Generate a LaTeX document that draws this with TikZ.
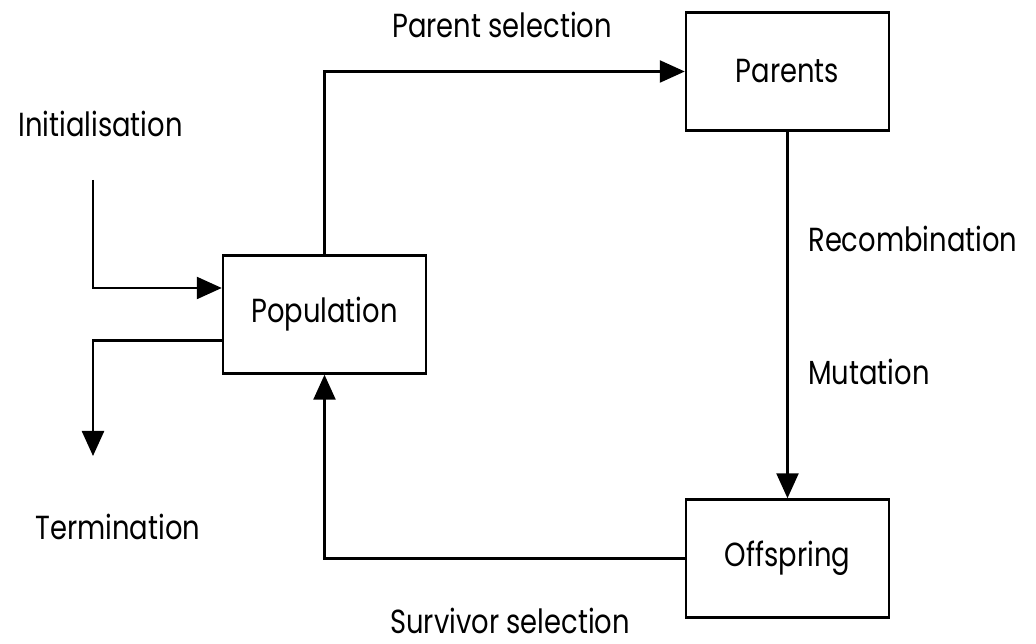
\documentclass[tikz,border=0pt]{standalone}
\usepackage{fontspec}
\setmainfont{Poppins}[FakeStretch=0.82]
\usetikzlibrary{arrows.meta, positioning}
\tikzstyle{stage} = [rectangle, draw, line width=1.4pt, minimum width=4.06cm,
                 minimum height=2.36cm, font=\fontsize{19}{22}\selectfont]
\tikzstyle{flow} = [line width=1.4pt, draw, -{Triangle[length=0.5cm, width=0.44cm]}]
\tikzset{
	phase/.style={anchor=base west, inner sep=0pt, font=\fontsize{19}{22}\selectfont},
}

\begin{document}
\begin{tikzpicture}
\useasboundingbox (0,0) rectangle (20.72,12.88);

\node [stage] at (6.49,6.59) (pop) {Population};
\node [stage] at (15.75,11.45) (par) {Parents};
\node [stage] at (15.75,1.71) (off) {Offspring};

\coordinate (init) at (1.86,9.28);
\coordinate (term) at (1.86,3.76);

\path [flow] (init) |- ([yshift=0.53cm]pop.west);
\path [flow] ([yshift=-0.52cm]pop.west) -| (term);
\path [flow] (pop.north) |- (par.west);
\path [flow] (par.south) -- (off.north);
\path [flow] (off.west) -| (pop.south);

% operator labels
\node [phase] at (0.36,10.14) (initl) {Initialisation};
\node [phase] at (0.70,2.08) (terml) {Termination};
\node [phase] at (7.84,12.12) (psel) {Parent selection};
\node [phase] at (16.16,7.84) (reco) {Recombination};
\node [phase] at (16.16,5.18) (muta) {Mutation};
\node [phase] at (7.80,0.2) (ssel) {Survivor selection};

\end{tikzpicture}
\end{document}
